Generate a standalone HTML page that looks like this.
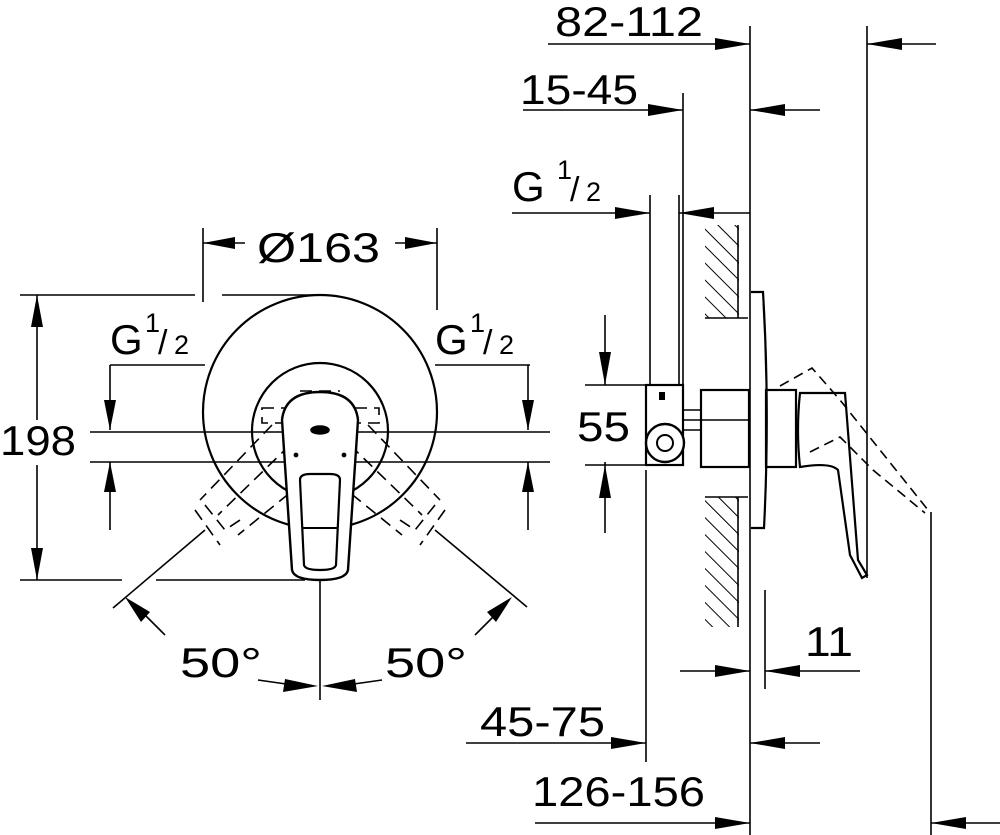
<!DOCTYPE html>
<html><head><style>
html,body{margin:0;padding:0;background:#fff;}
svg{display:block;}
text{font-family:"Liberation Sans",Arial,sans-serif;fill:#000;}
</style></head><body>
<svg width="1000" height="835" viewBox="0 0 1000 835" xmlns="http://www.w3.org/2000/svg">
<defs>
<pattern id="h" width="12" height="12" patternUnits="userSpaceOnUse" patternTransform="rotate(-45)">
<line x1="0" y1="0" x2="0" y2="12" stroke="#000" stroke-width="2"/>
</pattern>
</defs>
<g stroke="#000" fill="none" stroke-width="1.6">
<line x1="203" y1="228" x2="203" y2="302"/>
<line x1="437" y1="228" x2="437" y2="310"/>
<line x1="203" y1="243" x2="245" y2="243"/>
<line x1="395" y1="243" x2="437" y2="243"/>
<line x1="37" y1="295" x2="37" y2="580"/>
<line x1="20" y1="295" x2="195" y2="295"/>
<line x1="222" y1="295" x2="320" y2="295"/>
<line x1="20" y1="580" x2="122" y2="580"/>
<line x1="156" y1="580" x2="305" y2="580"/>
<line x1="110" y1="365" x2="205" y2="365"/>
<line x1="110" y1="365" x2="110" y2="430"/>
<line x1="110" y1="462" x2="110" y2="530"/>
<line x1="435" y1="365" x2="530" y2="365"/>
<line x1="528" y1="365" x2="528" y2="430"/>
<line x1="528" y1="462" x2="528" y2="530"/>
<line x1="90" y1="432" x2="550" y2="432"/>
<line x1="90" y1="462" x2="550" y2="462"/>
<circle cx="320" cy="412" r="117" stroke-width="2.2" fill="none"/>
<circle cx="320" cy="431" r="68" stroke-width="2.2" fill="none"/>
<g stroke-dasharray="12,7" stroke-width="1.6">
<line x1="272" y1="425" x2="200" y2="500"/>
<line x1="290" y1="445" x2="218" y2="515"/>
<line x1="318" y1="470" x2="238" y2="535"/>
<line x1="322" y1="470" x2="402" y2="535"/>
<line x1="368" y1="425" x2="440" y2="500"/>
<line x1="350" y1="445" x2="422" y2="515"/>
<path d="M205 505 L225 530 L240 520"/>
<path d="M435 505 L415 530 L400 520"/>
<path d="M195 510 L220 545"/>
<path d="M445 510 L420 545"/>
<rect x="262" y="408" width="24" height="15"/>
<rect x="355" y="408" width="24" height="15"/>
<line x1="300" y1="391" x2="340" y2="391"/>
</g>
<path d="M282 420 Q285 392 320 392 Q355 392 358 420 L348 570 Q346 580 320 580 Q294 580 292 570 Z" fill="#fff" stroke-width="2.4"/>
<path d="M300 480 Q300 474 310 474 L330 474 Q340 474 340 480 L336 565 Q335 570 320 570 Q305 570 304 565 Z" stroke-width="2.2"/>
<line x1="302" y1="528" x2="338" y2="528" stroke-width="2"/>
<ellipse cx="320" cy="430" rx="9" ry="4" fill="#000"/>
<circle cx="296" cy="455" r="1.6" fill="#000"/>
<circle cx="344" cy="455" r="1.6" fill="#000"/>
<line x1="320" y1="580" x2="320" y2="700"/>
<line x1="113" y1="608" x2="205" y2="530"/>
<line x1="527" y1="607" x2="435" y2="530"/>
<line x1="258" y1="680" x2="300" y2="686"/>
<line x1="382" y1="680" x2="340" y2="686"/>
<line x1="165" y1="635" x2="140" y2="610"/>
<line x1="475" y1="635" x2="500" y2="610"/>

<line x1="750" y1="26" x2="750" y2="835"/>
<line x1="867" y1="26" x2="867" y2="578"/>
<line x1="683" y1="93" x2="683" y2="385"/>
<line x1="650" y1="195" x2="650" y2="385"/>
<line x1="679" y1="195" x2="679" y2="385"/>
<line x1="646" y1="470" x2="646" y2="762"/>
<line x1="765" y1="590" x2="765" y2="689"/>
<line x1="931" y1="512" x2="931" y2="835"/>
<line x1="548" y1="44" x2="750" y2="44"/>
<line x1="867" y1="44" x2="936" y2="44"/>
<line x1="523" y1="110" x2="683" y2="110"/>
<line x1="750" y1="110" x2="820" y2="110"/>
<line x1="512" y1="213" x2="650" y2="213"/>
<line x1="679" y1="213" x2="750" y2="213"/>
<line x1="680" y1="671" x2="750" y2="671"/>
<line x1="765" y1="671" x2="860" y2="671"/>
<line x1="466" y1="743" x2="646" y2="743"/>
<line x1="750" y1="743" x2="820" y2="743"/>
<line x1="535" y1="823" x2="750" y2="823"/>
<line x1="931" y1="823" x2="1000" y2="823"/>
<line x1="605" y1="315" x2="605" y2="385"/>
<line x1="605" y1="462" x2="605" y2="533"/>
<line x1="585" y1="385" x2="650" y2="385"/>
<line x1="585" y1="465" x2="650" y2="465"/>
<rect x="705" y="225" width="34" height="93" fill="url(#h)" stroke="none"/>
<rect x="705" y="497" width="34" height="130" fill="url(#h)" stroke="none"/>
<line x1="705" y1="318" x2="748" y2="318"/>
<line x1="705" y1="497" x2="748" y2="497"/>
<line x1="738" y1="225" x2="738" y2="318"/>
<line x1="738" y1="497" x2="738" y2="627"/>
<path d="M751 292 L763 292 Q770 410 764 528 L751 528" stroke-width="2.2"/>
<rect x="701" y="390" width="48" height="77" stroke-width="2.2"/>
<line x1="682" y1="410" x2="701" y2="410"/>
<line x1="682" y1="420" x2="748" y2="420"/>
<line x1="682" y1="430" x2="701" y2="430"/>
<rect x="646" y="385" width="37" height="80" stroke-width="2.2" fill="#fff"/>
<circle cx="665" cy="443" r="19" stroke-width="2.4" fill="#fff"/>
<circle cx="665" cy="443" r="8" stroke-width="2"/>
<rect x="659" y="392" width="6" height="8" fill="#000" stroke="none"/>
<rect x="766" y="390" width="30" height="77" stroke-width="2.2"/>
<path d="M800 393 L845 393 L858 560 L867 575 L862 578 L850 555 L838 470 Q830 462 800 467 Q796 430 800 393 Z" stroke-width="2.2" fill="#fff"/>
<path d="M780 386 L812 368 L840 400 L880 450 L928 510" stroke-dasharray="10,6"/>
<path d="M810 452 L840 437 L873 470 L925 513" stroke-dasharray="10,6"/>
</g>
<g fill="#000">
<polygon points="203,243 235,237 235,249"/>
<polygon points="437,243 405,237 405,249"/>
<polygon points="37,295 31,327 43,327"/>
<polygon points="37,580 31,548 43,548"/>
<polygon points="110,430 104,400 116,400"/>
<polygon points="110,462 104,492 116,492"/>
<polygon points="528,430 522,400 534,400"/>
<polygon points="528,462 522,492 534,492"/>
<polygon points="125,597 150,612 141,622"/>
<polygon points="512,597 487,612 496,622"/>
<polygon points="318,686 285,679 283,692"/>
<polygon points="322,686 355,679 357,692"/>
<polygon points="750,44 715,38 715,50"/>
<polygon points="867,44 902,38 902,50"/>
<polygon points="683,110 648,104 648,116"/>
<polygon points="750,110 785,104 785,116"/>
<polygon points="650,213 615,207 615,219"/>
<polygon points="679,213 714,207 714,219"/>
<polygon points="605,385 599,352 611,352"/>
<polygon points="605,465 599,498 611,498"/>
<polygon points="750,671 715,665 715,677"/>
<polygon points="765,671 800,665 800,677"/>
<polygon points="646,743 611,737 611,749"/>
<polygon points="750,743 785,737 785,749"/>
<polygon points="750,823 715,817 715,829"/>
<polygon points="931,823 966,817 966,829"/>
</g>
<text x="257" y="262" font-size="42" textLength="123" lengthAdjust="spacingAndGlyphs">Ø163</text>
<rect x="0" y="420" width="80" height="45" fill="#fff"/>
<text x="0" y="455" font-size="42" textLength="76" lengthAdjust="spacingAndGlyphs">198</text>
<text x="110" y="354" font-size="42">G</text><text x="145" y="332" font-size="27">1</text><text x="158" y="354" font-size="34">/</text><text x="174" y="354" font-size="27">2</text>
<text x="435" y="354" font-size="42">G</text><text x="470" y="332" font-size="27">1</text><text x="483" y="354" font-size="34">/</text><text x="499" y="354" font-size="27">2</text>
<text x="180" y="677" font-size="42" textLength="82" lengthAdjust="spacingAndGlyphs">50°</text>
<text x="385" y="677" font-size="42" textLength="82" lengthAdjust="spacingAndGlyphs">50°</text>
<text x="555" y="36" font-size="42" textLength="148" lengthAdjust="spacingAndGlyphs">82-112</text>
<text x="520" y="104" font-size="42" textLength="118" lengthAdjust="spacingAndGlyphs">15-45</text>
<text x="512" y="201" font-size="42">G</text><text x="557" y="179" font-size="27">1</text><text x="570" y="201" font-size="34">/</text><text x="586" y="201" font-size="27">2</text>
<text x="577" y="441" font-size="42" textLength="53" lengthAdjust="spacingAndGlyphs">55</text>
<text x="805" y="656" font-size="42" textLength="48" lengthAdjust="spacingAndGlyphs">11</text>
<text x="480" y="736" font-size="42" textLength="125" lengthAdjust="spacingAndGlyphs">45-75</text>
<text x="532" y="806" font-size="42" textLength="173" lengthAdjust="spacingAndGlyphs">126-156</text>
</svg>
</body></html>
